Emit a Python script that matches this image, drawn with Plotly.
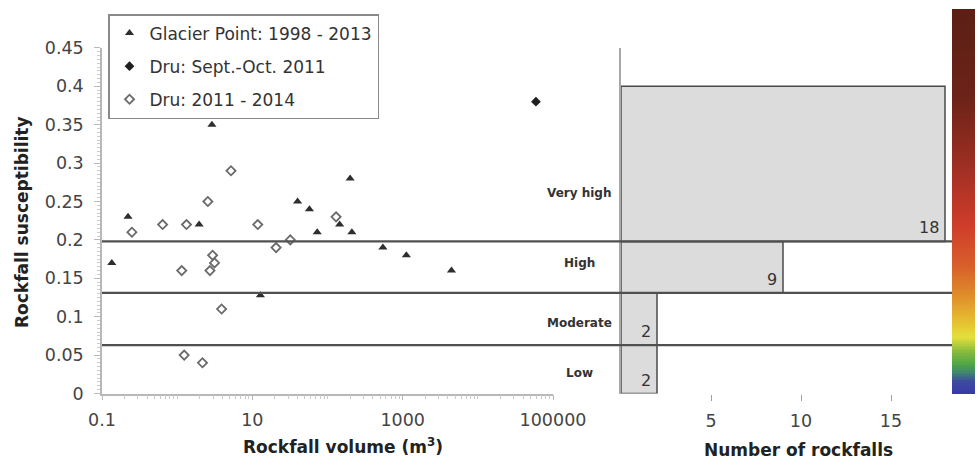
import numpy as np
import plotly.graph_objects as go

# Glacier Point rockfalls, 1998 - 2013
gp_volume = [0.135, 0.222, 1.96, 2.9, 12.8, 40, 57.5, 73, 145, 200, 211, 546, 1120, 4460]
gp_susceptibility = [0.17, 0.23, 0.22, 0.35, 0.128, 0.25, 0.24, 0.21, 0.22, 0.28, 0.21, 0.19, 0.18, 0.16]

# Dru, large event of Sept.-Oct. 2011
dru_event_volume = [59300]
dru_event_susceptibility = [0.38]

# Dru rockfalls 2011 - 2014
dru_volume = [0.25, 0.64, 1.33, 2.56, 5.2, 2.96, 3.14, 2.73, 1.15, 3.9, 1.24, 2.17, 11.8, 20.7, 32, 130]
dru_susceptibility = [0.21, 0.22, 0.22, 0.25, 0.29, 0.18, 0.17, 0.16, 0.16, 0.11, 0.05, 0.04, 0.22, 0.19, 0.20, 0.23]

# Susceptibility classes and number of rockfalls per class
class_names = ["Low", "Moderate", "High", "Very high"]
class_bounds = [0.0, 0.063, 0.131, 0.198, 0.40]
class_counts = [2, 2, 9, 18]

volume_ticks = [0.1, 10, 1000, 100000]
susceptibility_ticks = [0, 0.05, 0.1, 0.15, 0.2, 0.25, 0.3, 0.35, 0.4, 0.45]
count_ticks = [5, 10, 15]

W, H = 978, 465


def px_x(p):
    return p / W


def px_y(p):
    return 1 - p / H


TICK_FONT = dict(family="DejaVu Sans", size=17.5, color="#444444")
TITLE_FONT = dict(family="DejaVu Sans", size=17, color="#222222")
AXIS_GRAY = "#b8b8b8"
LINE_DARK = "#505050"

y_domain = [px_y(393.5), px_y(47.9)]
left_x_domain = [px_x(102), px_x(553)]
right_x_domain = [px_x(621), px_x(952)]
right_x_max = (952 - 621) / 18.0

fig = go.Figure()

fig.add_trace(go.Scatter(
    x=gp_volume, y=gp_susceptibility, mode="markers",
    name="Glacier Point: 1998 - 2013", legendgroup="a",
    marker=dict(symbol="triangle-up", size=8, color="#2e2e2e"),
    xaxis="x", yaxis="y",
))
fig.add_trace(go.Scatter(
    x=dru_event_volume, y=dru_event_susceptibility, mode="markers",
    name="Dru: Sept.-Oct. 2011", legendgroup="b",
    marker=dict(symbol="diamond", size=7.5, color="#1e1e1e"),
    xaxis="x", yaxis="y",
))
fig.add_trace(go.Scatter(
    x=dru_volume, y=dru_susceptibility, mode="markers",
    name="Dru: 2011 - 2014", legendgroup="c",
    marker=dict(symbol="diamond-open", size=7, color="#6a6a6a",
                line=dict(width=1.8, color="#6a6a6a")),
    xaxis="x", yaxis="y",
))

# Horizontal bars spanning each susceptibility class
lows = class_bounds[:-1]
highs = class_bounds[1:]
fig.add_trace(go.Bar(
    orientation="h",
    x=class_counts,
    y=[(a + b) / 2 for a, b in zip(lows, highs)],
    width=[b - a for a, b in zip(lows, highs)],
    base=0,
    marker=dict(color="#dcdcdc", line=dict(color="#4a4a4a", width=1.5)),
    showlegend=False, hoverinfo="skip",
    xaxis="x2", yaxis="y2",
))

# Colour ramp strip on the right
ramp = np.linspace(0, 1, 256).reshape(-1, 1)
ramp_scale = [
    [0.0, "#3a3aa6"], [0.03, "#3d4aa0"], [0.055, "#3f8a6a"], [0.075, "#4fa646"],
    [0.11, "#8cbc3e"], [0.145, "#e2e03c"], [0.175, "#e6c832"], [0.25, "#e0902a"],
    [0.33, "#d8602a"], [0.44, "#cf3c2a"], [0.6, "#9c2e22"], [0.77, "#6c2318"],
    [1.0, "#5c1f15"],
]
fig.add_trace(go.Heatmap(
    z=ramp, colorscale=ramp_scale, showscale=False, hoverinfo="skip",
    xaxis="x3", yaxis="y3",
))

shapes = []
for b in class_bounds[1:-1]:
    shapes.append(dict(
        type="line", xref="paper", yref="y",
        x0=px_x(102), x1=px_x(952), y0=b, y1=b,
        line=dict(color=LINE_DARK, width=2.2), layer="above",
    ))

annotations = []
# Count labels at the bottom-right corner inside each bar
for lo, n in zip(lows, class_counts):
    annotations.append(dict(
        xref="x2", yref="y2", x=n, y=lo, text=str(n), showarrow=False,
        xanchor="right", yanchor="bottom", xshift=-4, yshift=2,
        font=dict(family="DejaVu Sans", size=16, color="#333333"),
    ))

# Class names between the two panels
label_y = [0.027, 0.092, 0.17, 0.261]
for name, yv in zip(class_names, label_y):
    annotations.append(dict(
        xref="paper", yref="y", x=px_x(579), y=yv, text=f"<b>{name}</b>",
        showarrow=False, xanchor="center", yanchor="middle",
        font=dict(family="DejaVu Sans", size=12, color="#333333"),
    ))

annotations += [
    dict(xref="paper", yref="paper", x=px_x(22), y=px_y(222),
         text="<b>Rockfall susceptibility</b>", textangle=-90, showarrow=False,
         xanchor="center", yanchor="middle", font=TITLE_FONT),
    dict(xref="paper", yref="paper", x=px_x(343), y=px_y(446),
         text="<b>Rockfall volume (m<sup>3</sup>)</b>", showarrow=False,
         xanchor="center", yanchor="middle", font=TITLE_FONT),
    dict(xref="paper", yref="paper", x=px_x(798), y=px_y(450),
         text="<b>Number of rockfalls</b>", showarrow=False,
         xanchor="center", yanchor="middle", font=TITLE_FONT),
]

minor_volume = [m * 10 ** k for k in range(-1, 5) for m in range(1, 10)] + [100000]

fig.update_layout(
    template="none",
    width=W, height=H,
    margin=dict(l=0, r=0, t=0, b=0, autoexpand=False),
    paper_bgcolor="white", plot_bgcolor="rgba(0,0,0,0)",
    font=dict(family="DejaVu Sans", color="#333333"),
    showlegend=True,
    legend=dict(
        x=px_x(108), y=px_y(14), xanchor="left", yanchor="top",
        bgcolor="white", bordercolor="#8a8a8a", borderwidth=1.5,
        font=dict(family="DejaVu Sans", size=17, color="#333333"),
        tracegroupgap=8, itemwidth=30,
    ),
    xaxis=dict(
        type="log", domain=left_x_domain, range=[-1, 5], automargin=False,
        tickvals=volume_ticks, ticktext=[f"{v:g}" if v < 1000 else str(int(v)) for v in volume_ticks],
        tickfont=TICK_FONT, showline=True, linecolor=AXIS_GRAY, linewidth=1.5,
        ticks="outside", ticklen=5, tickcolor=AXIS_GRAY, ticklabelstandoff=5,
        showgrid=False, zeroline=False,
        minor=dict(tickvals=minor_volume, ticks="outside", ticklen=4, tickcolor="#c8c8c8", showgrid=False),
        anchor="y",
    ),
    yaxis=dict(
        domain=y_domain, range=[0, 0.45], automargin=False,
        tickvals=susceptibility_ticks, ticktext=[f"{v:g}" for v in susceptibility_ticks],
        tickfont=TICK_FONT, showline=True, linecolor=AXIS_GRAY, linewidth=1.5,
        ticks="outside", ticklen=6, tickcolor=AXIS_GRAY, ticklabelstandoff=7,
        showgrid=False, zeroline=False,
        minor=dict(dtick=0.005, ticks="outside", ticklen=3, tickcolor="#cccccc", showgrid=False),
        anchor="x",
    ),
    xaxis2=dict(
        domain=right_x_domain, range=[0, right_x_max], automargin=False,
        tickvals=count_ticks, tickfont=TICK_FONT,
        showline=False, ticks="outside", ticklen=6, tickcolor="#a0a0a0", ticklabelstandoff=5,
        showgrid=False, zeroline=False, anchor="y2",
    ),
    yaxis2=dict(
        domain=y_domain, range=[0, 0.45], automargin=False,
        showline=True, linecolor="#a8a8a8", linewidth=2,
        showticklabels=False, ticks="", showgrid=False, zeroline=False,
        anchor="x2",
    ),
    xaxis3=dict(domain=[px_x(952), px_x(975)], visible=False, anchor="y3",
                fixedrange=True, automargin=False),
    yaxis3=dict(domain=[px_y(394), px_y(9)], visible=False, anchor="x3",
                fixedrange=True, automargin=False),
    shapes=shapes,
    annotations=annotations,
)

fig.write_html("out.html")
